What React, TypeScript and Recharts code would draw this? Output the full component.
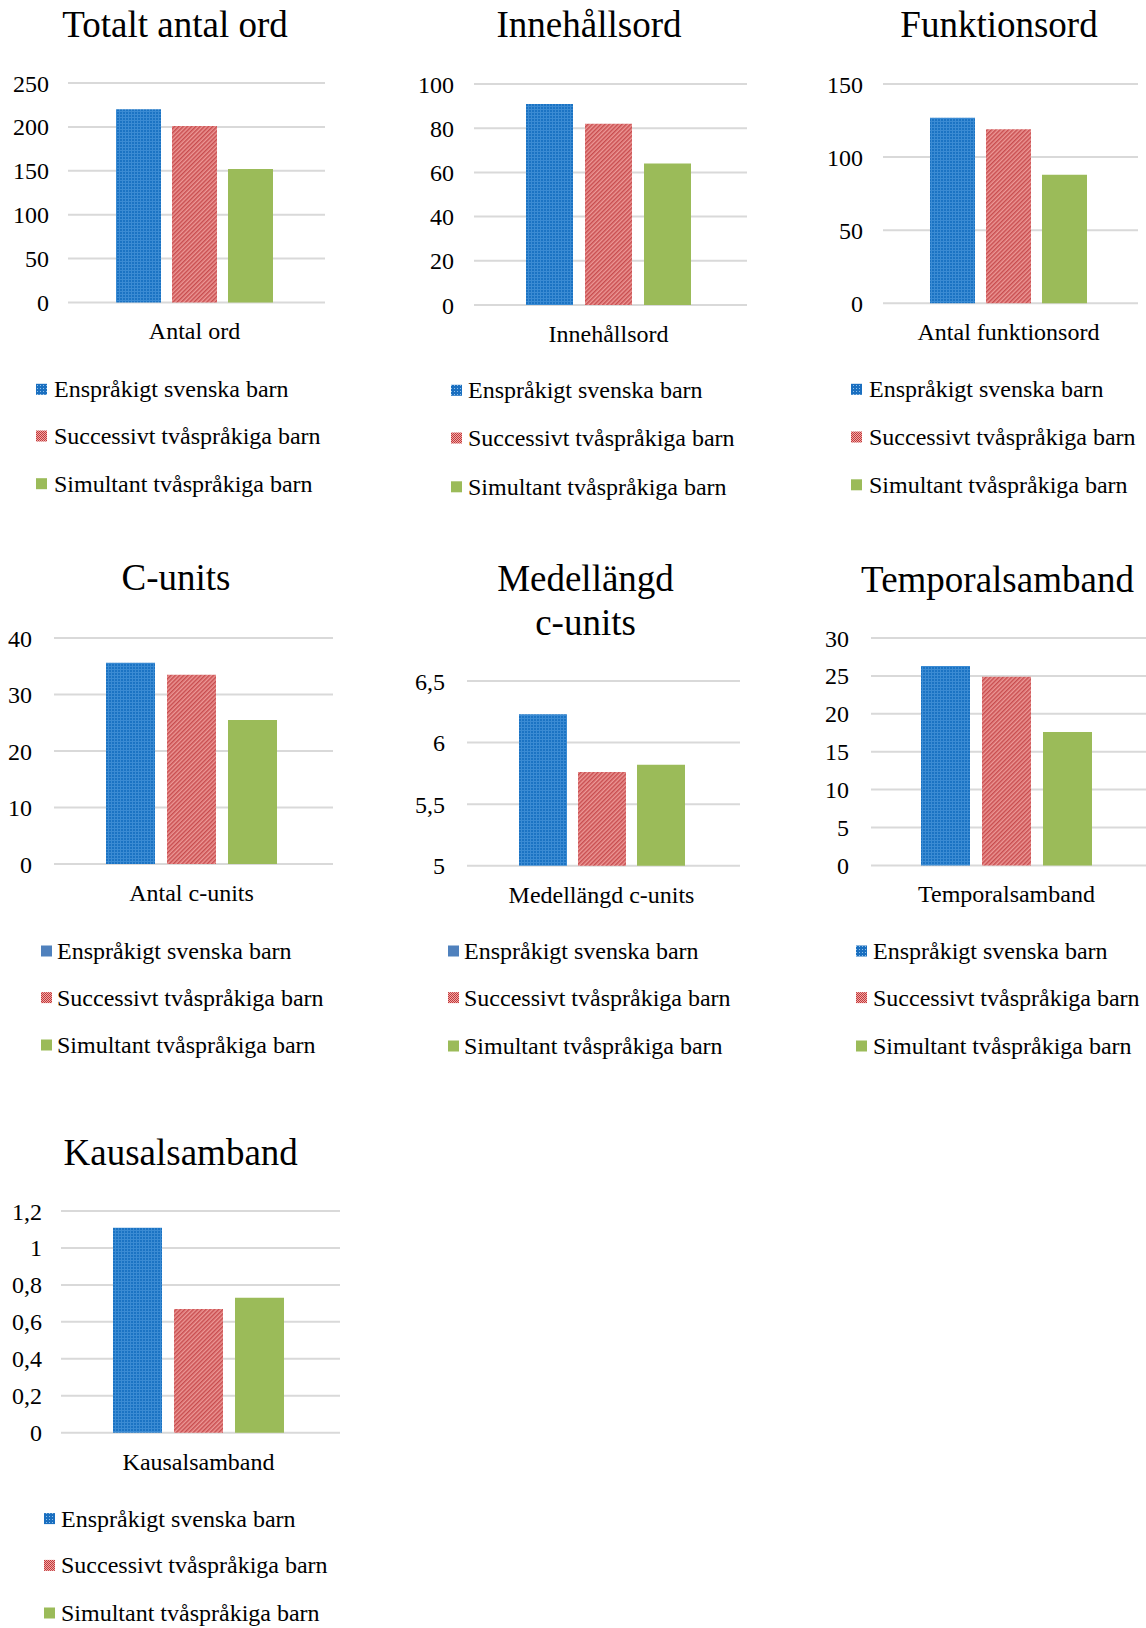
import React from "react";
import { BarChart, Bar, XAxis, YAxis, CartesianGrid } from "recharts";

// ---------- data ----------
const seriesNames = [
  "Enspråkigt svenska barn",
  "Successivt tvåspråkiga barn",
  "Simultant tvåspråkiga barn",
];
const chartTitles = [
  ["Totalt antal ord"],
  ["Innehållsord"],
  ["Funktionsord"],
  ["C-units"],
  ["Medellängd", "c-units"],
  ["Temporalsamband"],
  ["Kausalsamband"],
];
const categoryLabels = [
  "Antal ord",
  "Innehållsord",
  "Antal funktionsord",
  "Antal c-units",
  "Medellängd c-units",
  "Temporalsamband",
  "Kausalsamband",
];
const ensprakigt = [220, 91, 127, 35.6, 6.23, 26.3, 1.11];
const successivt = [201, 82, 119, 33.5, 5.76, 24.9, 0.67];
const simultant = [152, 64, 88, 25.5, 5.82, 17.6, 0.73];
const yTicks = [
  [0, 50, 100, 150, 200, 250],
  [0, 20, 40, 60, 80, 100],
  [0, 50, 100, 150],
  [0, 10, 20, 30, 40],
  [5, 5.5, 6, 6.5],
  [0, 5, 10, 15, 20, 25, 30],
  [0, 0.2, 0.4, 0.6, 0.8, 1, 1.2],
];

// ---------- layout / style ----------
const layout = [
  { gL: 68, gR: 325, gT: 83.3, gB: 302.7, bar: 45, gap: 11, tg: 19, tx: 175, ty: [36.7], lx: 36, ltx: 54, ly: [389.3, 436, 483.7], solidLeg: false },
  { gL: 474, gR: 747, gT: 84, gB: 305, bar: 47, gap: 12, tg: 20, tx: 589, ty: [36.7], lx: 451, ltx: 468, ly: [390.3, 438, 486.8], solidLeg: false },
  { gL: 883, gR: 1138, gT: 84, gB: 303.3, bar: 45, gap: 11, tg: 20, tx: 999, ty: [36.7], lx: 851, ltx: 869, ly: [389.3, 437, 484.8], solidLeg: false },
  { gL: 54, gR: 333, gT: 638.3, gB: 864.3, bar: 49, gap: 12, tg: 22, tx: 176, ty: [590], lx: 41, ltx: 57, ly: [951, 997.6, 1045], solidLeg: true },
  { gL: 467, gR: 740, gT: 681, gB: 865.7, bar: 48, gap: 11, tg: 22, tx: 585.5, ty: [590.7, 635], lx: 448, ltx: 464, ly: [951, 997.6, 1046], solidLeg: true },
  { gL: 871, gR: 1146, gT: 638.3, gB: 865.7, bar: 49, gap: 12, tg: 22, tx: 997.5, ty: [591.7], lx: 856, ltx: 873, ly: [951, 997.6, 1046], solidLeg: false },
  { gL: 61, gR: 340, gT: 1211, gB: 1432.7, bar: 49, gap: 12, tg: 19, tx: 180.7, ty: [1165], lx: 44, ltx: 61, ly: [1518.6, 1565.4, 1613], solidLeg: false },
];

const FONT = "'Liberation Serif', 'Times New Roman', serif";
const GREEN = "#9bbb59";
const GRID = "#d9d9d9";
const YW = 60;
const MT = 20;
const MR = 5;
const XH = 45;

const fmt = (v: number) => String(v).replace(".", ",");

function Patterns() {
  return (
    <svg width={0} height={0} style={{ position: "absolute" }}>
      <defs>
        <pattern id="bluePat" patternUnits="userSpaceOnUse" width={3} height={3}>
          <rect width={3} height={3} fill="#1b73c3" />
          <rect x={0} y={0} width={3} height={1} fill="#3b8bd3" />
          <rect x={0} y={0} width={1} height={3} fill="#3b8bd3" />
        </pattern>
        <pattern id="redPat" patternUnits="userSpaceOnUse" width={3} height={3} patternTransform="rotate(45)">
          <rect width={3} height={3} fill="#ec9896" />
          <rect width={1.5} height={3} fill="#c84d4f" />
        </pattern>
        <pattern id="redLeg" patternUnits="userSpaceOnUse" width={2} height={2}>
          <rect width={2} height={2} fill="#f2a8a6" />
          <rect width={1} height={1} fill="#c0393b" />
          <rect x={1} y={1} width={1} height={1} fill="#c0393b" />
        </pattern>
        <pattern id="blueLeg" patternUnits="userSpaceOnUse" width={3} height={3}>
          <rect width={3} height={3} fill="#1a6fc0" />
          <rect x={1} y={1} width={1} height={1} fill="#8fc0ea" />
        </pattern>
      </defs>
    </svg>
  );
}

function Panel({ i }: { i: number }) {
  const L = layout[i];
  const data = [
    { name: categoryLabels[i], a: ensprakigt[i], b: successivt[i], c: simultant[i] },
  ];
  const ticks = yTicks[i];
  const W = L.gR - L.gL + YW + MR;
  const H = L.gB - L.gT + MT + XH;
  return (
    <div style={{ position: "absolute", left: L.gL - YW, top: L.gT - MT, width: W, height: H }}>
      <BarChart
        width={W}
        height={H}
        data={data}
        margin={{ top: MT, right: MR, bottom: 0, left: 0 }}
        barSize={L.bar}
        barGap={L.gap}
      >
        <CartesianGrid vertical={false} stroke={GRID} strokeWidth={2} />
        <XAxis
          dataKey="name"
          tickLine={false}
          axisLine={false}
          tickSize={0}
          tickMargin={20}
          height={XH}
          interval={0}
          padding={{ left: 0, right: 4 }}
          tick={{ fill: "#000", fontSize: 24, fontFamily: FONT }}
        />
        <YAxis
          width={YW}
          domain={[ticks[0], ticks[ticks.length - 1]]}
          ticks={ticks}
          interval={0}
          tickLine={false}
          axisLine={false}
          tickSize={0}
          tickMargin={L.tg}
          tickFormatter={fmt}
          tick={{ fill: "#000", fontSize: 24, fontFamily: FONT }}
        />
        <Bar dataKey="a" name={seriesNames[0]} fill="url(#bluePat)" isAnimationActive={false} />
        <Bar dataKey="b" name={seriesNames[1]} fill="url(#redPat)" isAnimationActive={false} />
        <Bar dataKey="c" name={seriesNames[2]} fill={GREEN} isAnimationActive={false} />
      </BarChart>
    </div>
  );
}

function Overlay() {
  return (
    <svg
      width={1146}
      height={1628}
      style={{ position: "absolute", left: 0, top: 0, pointerEvents: "none" }}
      fontFamily={FONT}
    >
      {layout.map((L, i) => (
        <g key={i}>
          {chartTitles[i].map((t, k) => (
            <text key={k} x={L.tx} y={L.ty[k]} textAnchor="middle" fontSize={37} fill="#000">
              {t}
            </text>
          ))}
          {seriesNames.map((s, k) => {
            const fill =
              k === 0 ? (L.solidLeg ? "#4f81bd" : "url(#blueLeg)") : k === 1 ? "url(#redLeg)" : GREEN;
            return (
              <g key={k}>
                <rect x={L.lx} y={L.ly[k] - 5.5} width={11} height={11} fill={fill} />
                <text x={L.ltx} y={L.ly[k] + 8} fontSize={24} fill="#000">
                  {s}
                </text>
              </g>
            );
          })}
        </g>
      ))}
    </svg>
  );
}

export default function App() {
  return (
    <div
      style={{
        position: "absolute",
        left: 0,
        top: 0,
        width: 1146,
        height: 1628,
        overflow: "hidden",
        background: "#fff",
      }}
    >
      <Patterns />
      {layout.map((_, i) => (
        <Panel key={i} i={i} />
      ))}
      <Overlay />
    </div>
  );
}
